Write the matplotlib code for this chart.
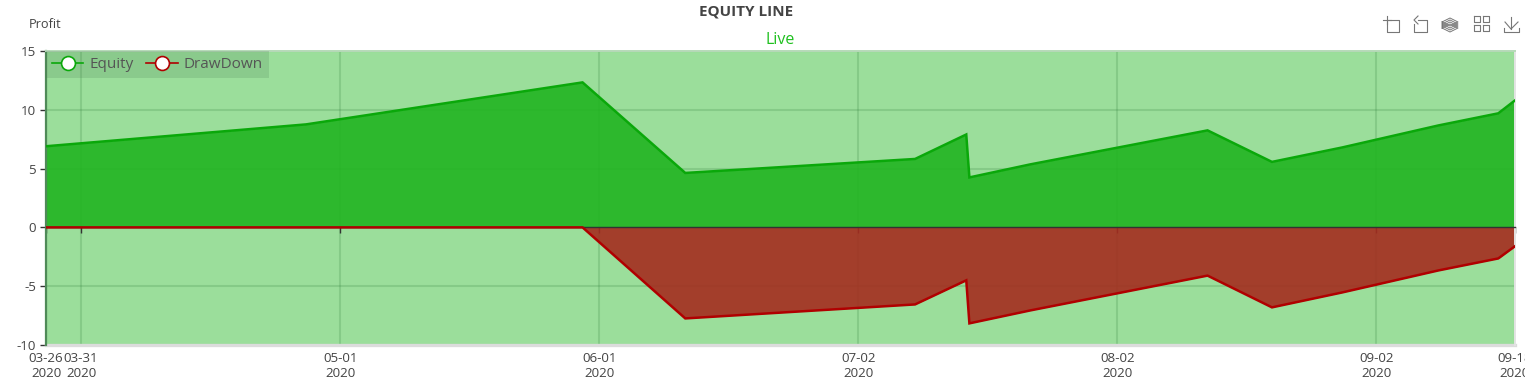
import pandas as pd
import matplotlib
matplotlib.use("Agg")
import matplotlib.pyplot as plt
import matplotlib.dates as mdates
from matplotlib.lines import Line2D
from matplotlib.transforms import Bbox

plt.rcParams['font.family'] = ['Open Sans', 'DejaVu Sans']
plt.rcParams['axes.unicode_minus'] = False

# data
dates = ["2020-03-26 19:00", "2020-04-26 22:00", "2020-05-30 00:00", "2020-06-11 07:00",
         "2020-07-08 19:00", "2020-07-14 22:00", "2020-07-15 07:00", "2020-07-22 14:00",
         "2020-08-12 19:00", "2020-08-20 12:00", "2020-08-28 22:00", "2020-09-09 10:00",
         "2020-09-16 14:00", "2020-09-18 14:00"]
equity = [6.9, 8.76, 12.33, 4.63, 5.82, 7.9, 4.25, 5.36, 8.25, 5.57, 6.8, 8.67, 9.7, 10.8]
drawdown = [0, 0, 0, -7.74, -6.55, -4.5, -8.16, -7.06, -4.1, -6.8, -5.53, -3.66, -2.64, -1.6]

tick_dates = ["2020-03-26 19:00", "2020-03-31 00:00", "2020-05-01 00:00", "2020-06-01 00:00",
              "2020-07-02 00:00", "2020-08-02 00:00", "2020-09-02 00:00", "2020-09-18 14:00"]
tick_labels = ["03-26\n2020", "03-31\n2020", "05-01\n2020", "06-01\n2020", "07-02\n2020",
               "08-02\n2020", "09-02\n2020", "09-18\n2020"]
y_ticks = [-10, -5, 0, 5, 10, 15]

W, H = 1535, 387
GREEN = "#0aa80a"
RED = "#b00000"
TEXT = "#444444"

x = mdates.date2num(pd.to_datetime(dates))
x_ticks = mdates.date2num(pd.to_datetime(tick_dates))

fig = plt.figure(figsize=(W / 100, H / 100), dpi=100)
ax = fig.add_axes([46 / W, 1 - 345 / H, (1515 - 46) / W, (345 - 51) / H])
ax.set_facecolor("#9bde9b")

ax.fill_between(x, equity, 0, color="#21b421", alpha=0.9, lw=0, zorder=1.5)
ax.fill_between(x, drawdown, 0, color="#a42d1f", alpha=0.9, lw=0, zorder=1.6)
ax.plot(x, equity, color=GREEN, lw=1.8, zorder=3, solid_joinstyle="miter")
ax.plot(x, drawdown, color=RED, lw=1.8, zorder=3.1, solid_joinstyle="miter")

ax.set_xlim(x[0], x[-1])
ax.set_ylim(-10, 15)
ax.set_xticks(x_ticks)
ax.set_xticklabels(tick_labels, linespacing=0.82)
ax.set_yticks(y_ticks)

# the x axis line sits on zero, its labels stay under the plot
ax.set_axisbelow(True)
ax.grid(True, color="#2e7d3a", alpha=0.2, lw=1.5)
ax.spines['bottom'].set_position(('data', 0))
ax.spines['bottom'].set_color("#333333")
ax.spines['bottom'].set_linewidth(1)
ax.spines['bottom'].set_zorder(2.8)
ax.spines['left'].set_color("#4f8a58")
ax.spines['left'].set_linewidth(1.6)
ax.spines['top'].set_color("#b7d9b9")
ax.spines['top'].set_linewidth(1.4)
ax.spines['right'].set_color("#e4e4e4")
ax.spines['right'].set_linewidth(1.4)
ax.axhline(-10, color="#dcdcdc", lw=2.4, clip_on=False, zorder=1)
ax.tick_params(axis='x', length=4, width=1, color="#333333", labelsize=9.6, labelcolor=TEXT, pad=86)
ax.tick_params(axis='y', length=4.3, width=1, color="#333333", labelsize=9.6, labelcolor=TEXT, pad=3)

# last date label is cut off at the right
clip = Bbox([[0, 0], [1525, H]])
for lab in ax.get_xticklabels():
    lab.set_clip_box(clip)
    lab.set_clip_on(True)

handles = [
    Line2D([], [], color=GREEN, lw=1.2, marker='o', ms=10, mfc="white", mec=GREEN, mew=1.2),
    Line2D([], [], color=RED, lw=1.2, marker='o', ms=10, mfc="white", mec=RED, mew=1.2),
]
leg = ax.legend(handles, ["Equity", "DrawDown"], ncol=2, loc="upper left",
                bbox_to_anchor=(0, 1), borderaxespad=0, fontsize=11, labelcolor="#555555",
                fancybox=False, facecolor="#4a7a50", edgecolor="none", framealpha=0.2,
                handlelength=2.05, handletextpad=0.39, columnspacing=0.85,
                borderpad=0.39)
leg.set_zorder(5)

fig.text(45 / W, 1 - 24 / H, "Profit", ha="center", va="center", fontsize=9.2, color=TEXT)
fig.text(746 / W, 1 - 12 / H, "EQUITY LINE", ha="center", va="center", fontsize=11,
         fontweight="bold", color="#444444")
fig.text(780 / W, 1 - 39.5 / H, "Live", ha="center", va="center", fontsize=11.5, color="#1fc01f")


# toolbox icons in the top right corner
def icon(xs, ys, lw=0.8, color="#777777"):
    fig.add_artist(Line2D([v / W for v in xs], [1 - v / H for v in ys], color=color, lw=lw))


# zoom
icon([1387, 1399, 1399, 1387, 1387], [20, 20, 32, 32, 20])
icon([1383, 1391], [20, 20])
icon([1387, 1387], [16, 24])
# zoom reset
icon([1418, 1427, 1427, 1414, 1414], [20, 20, 32, 32, 24])
icon([1418, 1414, 1418], [16, 20, 24])
# stack
for dy in [0, 2, 4, 6]:
    icon([1442, 1450, 1458, 1450, 1442], [22 + dy, 18 + dy, 22 + dy, 26 + dy, 22 + dy], lw=0.7)
# tiled
for gx in [1474, 1483]:
    for gy in [16, 25]:
        icon([gx, gx + 6, gx + 6, gx, gx], [gy, gy, gy + 6, gy + 6, gy])
# save
icon([1511, 1511], [17, 29])
icon([1505, 1511, 1518], [22, 29, 22])
icon([1504, 1504, 1519, 1519], [28, 32, 32, 28])

fig.savefig("out.png", dpi=100)
